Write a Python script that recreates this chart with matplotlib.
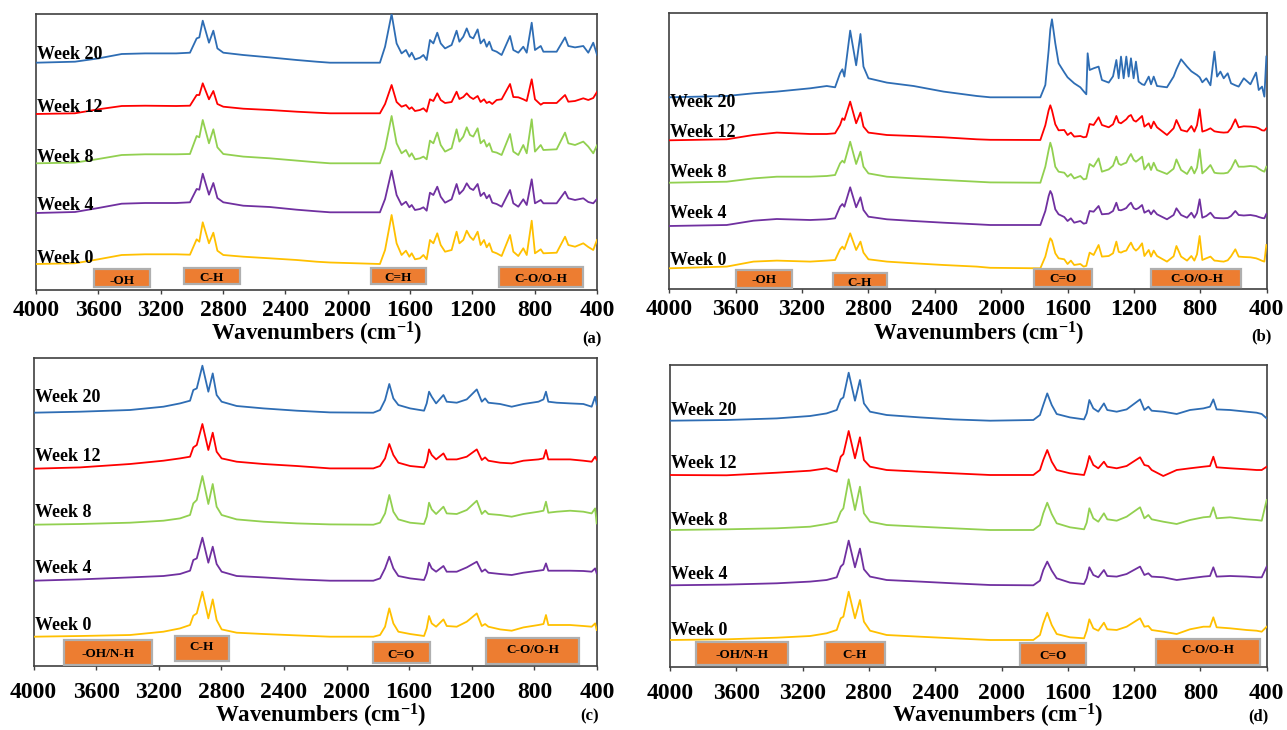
import matplotlib
matplotlib.use('Agg')
import matplotlib.pyplot as plt
from matplotlib.patches import Rectangle

plt.rcParams['font.family'] = ['Liberation Serif', 'DejaVu Serif']
plt.rcParams['font.weight'] = 'bold'
plt.rcParams['mathtext.fontset'] = 'custom'
plt.rcParams['mathtext.rm'] = 'Liberation Serif:bold'
plt.rcParams['mathtext.it'] = 'Liberation Serif:bold'
plt.rcParams['mathtext.bf'] = 'Liberation Serif:bold'

# ---------------- data ----------------
weeks = ['Week 20', 'Week 12', 'Week 8', 'Week 4', 'Week 0']
colors = ['#2E6DB4', '#FF0000', '#92D050', '#7030A0', '#FFC000']
xticks = [4000, 3600, 3200, 2800, 2400, 2000, 1600, 1200, 800, 400]

# Panel (a): wavenumbers and absorbance (a.u.) of each week
a_wn = [4000, 3750, 3600, 3450, 3300, 3100, 3012, 2969, 2952, 2930, 2890, 2862, 2836, 2798, 2670, 2500, 2327, 2200,
        2113, 1793, 1760, 1718, 1686, 1654, 1626, 1604, 1589, 1568, 1536, 1514, 1493, 1472, 1450, 1425, 1403, 1375,
        1333, 1301, 1283, 1258, 1236, 1215, 1194, 1166, 1147, 1125, 1108, 1091, 1072, 1044, 1012, 958, 937, 905,
        873, 851, 819, 798, 761, 744, 659, 605, 584, 541, 488, 456, 424, 400]
a_week20 = [0, 1, 4.3, 8.7, 9.3, 9.3, 10, 24.3, 25.3, 42, 20, 32, 14.3, 10, 7.7, 5.3, 2.7, 1,
            0, 0, 16, 48.7, 19.3, 9.3, 12.7, 6, 10, 3.3, 5, 7.7, 2.7, 22.7, 19.3, 30, 19.3, 14.3, 17.7, 32, 21, 26,
            34.3, 26, 24.3, 33.3, 19.3, 23.3, 16, 21, 12.7, 11, 7.7, 26.7, 12.7, 10, 16, 10, 40, 12.7, 16.7, 11, 11,
            25.3, 16.7, 15.3, 16.7, 10, 20, 8]
a_week12 = [0, 0.7, 4.7, 8, 8.3, 8, 8.3, 19, 19, 30.7, 14.7, 23, 10, 7.3, 5.3, 4, 2.3, 1.3,
            0.7, 0.7, 10, 29, 12, 7.3, 9, 5, 6.7, 3, 4, 5.7, 2.3, 14.7, 13, 20.7, 14, 11, 12, 22.3, 15, 17, 20.7, 17,
            15, 18, 12, 14.7, 11, 12.3, 10, 14, 14.7, 30, 17, 16.7, 14.7, 13, 34.7, 14.7, 9.3, 11, 11, 19, 12.3, 13,
            15.7, 14, 16, 22]
a_week8 = [0, 0.7, 4.3, 8.3, 9, 9, 9.3, 27.3, 26, 43.3, 20, 34, 16, 9.3, 6.7, 5, 2.7, 1,
           0, 0, 15, 47.3, 20, 10, 13.3, 6.7, 10, 4, 5, 6.7, 4, 22.7, 20, 30.7, 18.3, 11.7, 15, 34, 21.7, 26.7, 36,
           28.3, 26.7, 35, 20, 23.3, 16.7, 20, 11.7, 10.7, 8.3, 29.3, 11.7, 8.3, 18.3, 10, 44, 11.7, 18.3, 13.3, 14,
           30.7, 20, 18.3, 21.7, 16.7, 10, 18]
a_week4 = [0, 1, 5, 9.3, 10, 10, 10.7, 24, 23.3, 39.3, 18.3, 30, 15, 10.7, 7.3, 6, 3.3, 1.7,
           0.7, 0.7, 14, 42.3, 18, 8, 11.3, 5.7, 8, 3, 4, 5.7, 2.3, 20.3, 18, 26.3, 16.3, 10.3, 13.7, 29, 19, 23,
           29.7, 24.7, 23, 29, 17, 20.3, 14.7, 18, 10.3, 9, 6.3, 23, 9.7, 6.3, 13.7, 8, 33.7, 9.7, 13, 9.7, 9.7,
           21.3, 14.7, 13, 14.7, 11, 9.7, 14]
a_week0 = [0, 0.7, 4.7, 9, 9.7, 9.7, 9.3, 24.7, 22.3, 41.7, 20.7, 31.3, 13.3, 9, 7.3, 5.7, 4, 2.3,
           1.5, 0, 14, 49, 20.7, 9, 13.3, 7.3, 10.7, 4.7, 5.7, 9, 4.7, 24, 20.7, 30.7, 19, 12.3, 14, 32.3, 20.7, 24,
           33.3, 27.3, 24, 32.3, 19, 24, 16.7, 20.7, 12.3, 10.7, 8, 29, 12.3, 8, 15.7, 9, 43.3, 10.7, 14.7, 10.7,
           11.3, 27.3, 19, 17.3, 20.7, 17, 14, 24]

# Panel (b)
b_wn = [4000, 3654, 3493, 3352, 3151, 3051, 3001, 2971, 2957, 2945, 2910, 2874, 2848, 2830, 2800, 2689, 2528, 2347, 2147,
        2066, 1764, 1734, 1714, 1704, 1694, 1674, 1654, 1620, 1600, 1580, 1560, 1523, 1503, 1487, 1479, 1467, 1443,
        1413, 1393, 1352, 1326, 1306, 1292, 1278, 1262, 1246, 1232, 1218, 1202, 1188, 1172, 1151, 1137, 1111, 1097,
        1081, 1061, 1001, 961, 944, 916, 880, 854, 836, 820, 804, 788, 764, 739, 715, 699, 679, 659, 635, 615, 589,
        569, 538, 498, 464, 448, 428, 414, 402]
b_week20 = [0, 1.3, 4, 5.7, 9, 11.3, 10, 24, 28, 20.7, 66.7, 32, 63.3, 30.7, 19, 14.7, 11.3, 5.7, 1.3,
            0, 0, 12.3, 47, 68, 78, 54, 34, 25, 20, 17, 14, 10, 6, 3, 44, 27.3, 29, 30.7, 17.3, 14.7, 21, 37.3, 19,
            40.7, 19, 40.7, 20.7, 39, 19, 35.7, 15.7, 13, 12.3, 20.7, 13, 20.7, 11.3, 10, 20.7, 28, 38, 30.7, 26, 24,
            22.3, 20, 15, 19, 12, 45.7, 20.7, 25.7, 19, 24, 14, 12, 10.7, 19, 13, 24.7, 7.3, 10.7, 0.7, 40.7]
b_week12 = [0, 1, 5.3, 7.7, 6.3, 6.3, 7, 15.3, 22, 20.3, 38.7, 17, 27.7, 13.7, 7.7, 5.3, 4.3, 3, 1,
            0.5, 0.3, 15, 30, 35, 30, 16, 10, 10.3, 5.3, 7.7, 3.7, 4.3, 3, 3.5, 8, 16.3, 15.3, 23, 15.3, 13, 16, 24.3,
            18, 17, 19, 21, 24, 25.3, 20, 18.7, 21, 24.3, 13.7, 17, 12, 18.7, 13, 5.3, 12, 20.3, 10.3, 8.7, 14.3, 8.7,
            15, 31, 8.7, 10, 12, 9, 8.5, 8, 7.7, 8, 12, 21, 13, 14, 13.7, 13, 12, 10, 9.7, 12]
b_week8 = [0, 1, 4.3, 6, 6, 6.7, 7.7, 19.3, 22, 20, 41, 18.7, 31, 16, 9.3, 6, 4.3, 2.7, 1,
           0.3, 0, 16, 32.7, 40, 34.3, 16, 11, 10, 6, 8.7, 4.3, 6.7, 3.3, 4, 10, 18.7, 16, 24.3, 11, 13.3, 17, 26,
           19, 17.7, 19, 20, 25, 28.7, 23, 21, 23, 26, 13.3, 19.3, 12.7, 20, 12.7, 8.7, 14, 23.3, 12.7, 8.7, 16, 9.3,
           15, 33.3, 9.3, 13, 17.7, 10, 9.5, 9.3, 9.3, 10, 14, 22.7, 16, 16, 16.7, 16, 14, 12, 11, 16]
b_week4 = [0, 1, 5.3, 7, 6, 6.7, 7.7, 19.3, 22, 19.3, 38.7, 18.7, 28.7, 16, 9.3, 6.7, 5, 3.3, 1.7,
           1, 1, 15, 30, 35, 31.7, 16.7, 11.7, 9, 5, 7.7, 3.3, 5, 2.3, 3, 8, 15, 14.3, 20, 11.7, 12.3, 15, 23.3, 16,
           15.7, 16.7, 18, 21, 23.3, 18, 16.7, 18, 21, 13.3, 15.7, 11.7, 15.7, 11.7, 6.7, 11, 17.7, 11, 8.3, 13.3,
           8.3, 13, 26.7, 8.3, 10, 13.3, 8.3, 8, 7.8, 7.7, 8, 10, 15, 11, 10.5, 11, 10, 9, 8, 7.7, 12]
b_week0 = [0, 1.7, 6.7, 7.7, 6.7, 7.7, 8.3, 19, 21.7, 19, 35, 18.3, 26.7, 15.7, 9, 6.7, 5, 3.3, 1.7,
           0.5, 0, 11.7, 25, 30, 27.7, 15, 10, 9, 4.3, 7.7, 3.3, 4.3, 1.7, 2.5, 8, 15.7, 13.3, 23.3, 11.7, 12.3, 15,
           26.7, 16.5, 15.7, 17, 17.7, 22, 25.7, 20, 17.7, 20, 25, 12.3, 18.3, 11.7, 17.7, 12.3, 6.7, 12, 22.3, 11.7,
           7.7, 12.3, 7.7, 14, 32.3, 8.3, 10, 11.7, 7.7, 7.5, 7, 6.7, 8, 12, 19, 11.7, 11.3, 11, 10, 9, 7.5, 6.7, 23.3]

# Panel (c)
c_wn = [4000, 3703, 3383, 3170, 3064, 3000, 2979, 2957, 2921, 2883, 2855, 2830, 2798, 2702, 2531, 2318,
        2106, 1829, 1786, 1754, 1727, 1701, 1669, 1594, 1505, 1488, 1473, 1456, 1428, 1381, 1360, 1296, 1232,
        1168, 1136, 1115, 1094, 1019, 945, 870, 774, 742, 726, 711, 657, 572, 487, 434, 412, 402]
c_week20 = [0, 1, 2.7, 6, 9.3, 12, 22.7, 24.3, 47, 21, 39.3, 17.7, 11, 6.7, 4.3, 2,
            0.3, 0, 2.7, 12.7, 28.7, 14.3, 7.7, 4.3, 2, 9.3, 21, 16, 9.3, 17.7, 11, 10, 13.3, 23.3, 11, 14.3, 10,
            8.7, 6, 8.7, 11, 13.3, 21, 11, 10, 9.3, 8.7, 6, 16, 8]
c_week12 = [0, 1.3, 4.7, 8, 10.3, 12, 21.3, 23.7, 44.7, 18.7, 36, 17, 10.3, 7, 4.7, 2.7,
            0.3, 0.3, 2.7, 10.3, 24.7, 13.7, 6, 2.7, 1.3, 7, 19.3, 13.7, 9.3, 15.3, 9.3, 9.3, 12, 19.3, 8.7, 11.3, 8,
            6, 5.3, 8, 9.3, 10.3, 18.7, 9.3, 9.3, 9.3, 8, 7, 12, 9]
c_week8 = [0, 0.7, 2, 4, 6.3, 9.7, 21.3, 24.7, 48.7, 20.7, 40.7, 18, 9.7, 5.3, 3, 1.3,
           0.3, 0, 2, 11.3, 29.7, 13, 5.3, 2, 0.7, 8, 22, 15.3, 10.7, 18, 11.3, 10.7, 14.7, 24, 10.7, 14, 10.7, 9.7,
           8, 10.7, 13, 14, 23, 12, 13, 14, 13, 11.3, 16.3, 1.3]
c_week4 = [0, 1.3, 3.3, 4.7, 6.7, 10, 20.7, 22.3, 43, 18, 34, 16.7, 9, 4.7, 3.3, 1.3,
           0, 0, 2.3, 12.3, 24, 12.3, 4.7, 2.3, 0.7, 7.3, 18, 12.3, 9, 14.7, 9, 9, 13.3, 19, 9, 11.3, 8, 6.7, 5.7, 8,
           10, 10.7, 17.3, 10, 10, 10, 9.7, 9, 12.3, 7.3]
c_week0 = [0, 0.7, 1.7, 5, 8.3, 11.7, 21, 23.3, 45, 18.3, 37.3, 16.7, 7.3, 4, 2.7, 1.3,
           0, 0, 1.7, 10, 28.3, 13.3, 5, 2.7, 0.7, 8.3, 20.7, 13.3, 10, 17.3, 10.7, 10, 15, 23.3, 10.7, 12.7, 10, 7.3,
           6, 9.3, 11.7, 12.7, 21.7, 11.7, 11.7, 11.7, 10.7, 10, 13.3, 6.7]

# Panel (d)
d_wn = [4000, 3658, 3356, 3155, 3055, 2994, 2970, 2954, 2922, 2884, 2854, 2830, 2793, 2693, 2492, 2291,
        2069, 1808, 1768, 1748, 1724, 1697, 1667, 1587, 1502, 1486, 1470, 1446, 1416, 1382, 1362, 1305, 1245,
        1164, 1138, 1114, 1094, 1024, 943, 863, 782, 742, 722, 702, 621, 521, 461, 430, 400]
d_week20 = [0, 0.7, 2.3, 4.7, 7.3, 10.7, 21.3, 23.3, 48, 20, 40.7, 17.3, 9, 5.7, 3.3, 1.3,
            0, 0.7, 5.7, 15.7, 27.3, 15.7, 6.7, 3.3, 1.3, 7.3, 20.7, 12.3, 9, 17.3, 10.7, 9, 11.3, 21.3, 10.7, 14, 10,
            9, 6.7, 10.7, 12.3, 14, 21.3, 11.3, 10.7, 9, 8, 6.7, 2.3]
d_week12 = [0, -0.3, 2.3, 4.3, 6.7, 3.3, 18.3, 21, 44, 16.7, 37.7, 15, 8.3, 5, 3.3, 1.7,
            0, 0, 5, 15, 25, 13.3, 5, 1.7, 0, 8.3, 19, 10, 6.7, 13.3, 8.3, 6.7, 9, 17.7, 10, 9, 5, -1, 5, 6.7, 8.3, 9,
            18.3, 7.7, 6.7, 5.7, 5, 5, 8.3]
d_week8 = [0, 0.7, 1.7, 3.3, 6, 8.3, 18.3, 21.7, 50.7, 20, 43.3, 16.7, 8.3, 5, 3.3, 1.7,
           0, 0, 5, 16.7, 27.3, 16, 6.7, 2.7, 0.7, 7.3, 21.7, 11.7, 8.3, 16.7, 10.7, 9.3, 13.3, 22.7, 11.7, 15, 10.7,
           8.3, 6, 10, 12.7, 13.3, 22.7, 11.7, 12.7, 10.7, 10, 9.3, 30]
d_week4 = [0, 0.7, 2, 3.7, 5.3, 8, 18.7, 21.3, 44.7, 18, 36.7, 16, 8.7, 5.3, 3.7, 2,
           0.3, 0, 4.7, 15.3, 23.7, 14.7, 7, 2.7, 1.3, 7, 18, 10.3, 8, 15.3, 9.3, 8.7, 11.3, 18.7, 10.3, 12, 8.7, 8,
           5.3, 7, 8.7, 9.3, 18, 8.7, 9.3, 8.7, 8, 8, 18.7]
d_week0 = [0, 0.7, 2.3, 4, 6.7, 10, 21.7, 23.3, 48.3, 21.7, 40, 18.3, 9.3, 5, 3.3, 1.7,
           0, 0, 5, 16.7, 27.3, 15, 6, 2.7, 1.7, 9.3, 20.7, 11.7, 9.3, 17.3, 10.7, 10, 13.3, 21.7, 13.3, 14, 10, 8.3,
           6, 10.7, 13.3, 13.3, 22.7, 12.7, 11.7, 10, 9.3, 8.3, 13.3]

# band annotation labels per panel
a_bands = ['-OH', 'C-H', 'C=H', 'C-O/O-H']
b_bands = ['-OH', 'C-H', 'C=O', 'C-O/O-H']
c_bands = ['-OH/N-H', 'C-H', 'C=O', 'C-O/O-H']
d_bands = ['-OH/N-H', 'C-H', 'C=O', 'C-O/O-H']

# ---------------- layout ----------------
W, H = 1287, 730
fig = plt.figure(figsize=(W / 100, H / 100), dpi=100)

panels = [
    dict(rect=(36, 14, 597, 290), wn=a_wn, ys=[a_week20, a_week12, a_week8, a_week4, a_week0],
         offs=[227.3, 176, 126.7, 77, 26], lab_y=[231, 178, 128, 80, 27], lab_x=3994,
         boxes=[(3628, 3268, 3, 21), (3050, 2691, 6, 22), (1850, 1497, 6, 22), (1029, 490, 3, 23)],
         txt_dy=[-3.5, -2, -2, -2],
         bands=a_bands, pad=4.0, xlab=(317, 334), letter='(a)', let=(592, 339)),
    dict(rect=(669.3, 12.7, 1266.7, 289), wn=b_wn, ys=[b_week20, b_week12, b_week8, b_week4, b_week0],
         offs=[191.7, 148.7, 106.3, 63, 20.7], lab_y=[182, 152, 112, 71, 24], lab_x=3998,
         boxes=[(3598, 3261, 1, 19), (3014, 2688, 2, 16), (1801, 1451, 2, 20), (1095, 552, 2, 20)],
         txt_dy=[-1, -3, -1, -1],
         bands=b_bands, pad=4.0, xlab=(979, 334), letter='(b)', let=(1261, 336)),
    dict(rect=(33.5, 358, 597, 666), wn=c_wn, ys=[c_week20, c_week12, c_week8, c_week4, c_week0],
         offs=[253.3, 197.3, 141.3, 85.3, 29.3], lab_y=[264, 205, 149, 93, 36], lab_x=3990,
         boxes=[(3805, 3243, 1, 26), (3096, 2751, 5, 30), (1831, 1467, 3, 24), (1109, 515, 2, 28)],
         txt_dy=[-1.5, 1, -2, 1],
         bands=c_bands, pad=8.5, xlab=(321, 716), letter='(c)', let=(590, 716)),
    dict(rect=(670, 365, 1266.7, 666.7), wn=d_wn, ys=[d_week20, d_week12, d_week8, d_week4, d_week0],
         offs=[246, 191.7, 136.7, 81.4, 26.7], lab_y=[251.7, 198.7, 141.7, 87.4, 31.7], lab_x=3995,
         boxes=[(3843, 3288, 1.7, 25), (3065, 2703, 1.7, 25), (1888, 1490, 1.7, 24), (1065, 440, 1.7, 28)],
         txt_dy=[-1.5, -1.5, -2, 1.5],
         bands=d_bands, pad=8.5, xlab=(998, 716), letter='(d)', let=(1258, 716)),
]

for p in panels:
    l, t, r, b = p['rect']
    ax = fig.add_axes([l / W, 1 - b / H, (r - l) / W, (b - t) / H])
    for name, col, ys, off in zip(weeks, colors, p['ys'], p['offs']):
        ax.plot(p['wn'], [off + v for v in ys], color=col, lw=1.3, solid_joinstyle='round', zorder=3)
    for name, ly in zip(weeks, p['lab_y']):
        ax.text(p['lab_x'], ly, name, fontsize=13, fontweight='bold', ha='left', va='baseline',
                color='black', zorder=5)
    for (hi, lo, y0, y1), txt, dy in zip(p['boxes'], p['bands'], p['txt_dy']):
        ax.add_patch(Rectangle((lo, y0), hi - lo, y1 - y0, facecolor='#ED7D31', edgecolor='#AFAFAF',
                               lw=1.6, zorder=4))
        ax.text((hi + lo) / 2, (y0 + y1) / 2 + dy, txt, fontsize=9.5, fontweight='bold', ha='center',
                va='center', color='black', zorder=6)
    ax.set_xlim(4000, 400)
    ax.set_ylim(0, b - t)
    ax.set_xticks(xticks)
    ax.set_xticklabels([str(v) for v in xticks])
    ax.set_yticks([])
    ax.tick_params(axis='x', direction='out', length=3, width=1, pad=p['pad'], labelsize=17,
                   color='#404040')
    for lbl in ax.get_xticklabels():
        lbl.set_fontweight('bold')
    for s in ax.spines.values():
        s.set_color('#404040')
        s.set_linewidth(1.2)
    fig.text(p['xlab'][0] / W, 1 - p['xlab'][1] / H, 'Wavenumbers (cm$^{-1}$)', ha='center', va='center',
             fontsize=16.5, fontweight='bold')
    fig.text(p['let'][0] / W, 1 - p['let'][1] / H, p['letter'], ha='center', va='center',
             fontsize=12, fontweight='bold')

fig.savefig('out.png', dpi=100)
